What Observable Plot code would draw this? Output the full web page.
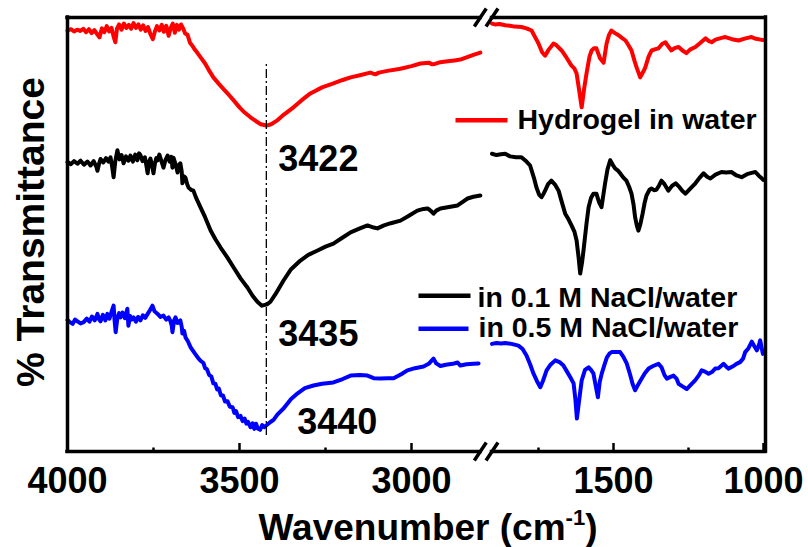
<!DOCTYPE html>
<html>
<head>
<meta charset="utf-8">
<script src="https://cdn.jsdelivr.net/npm/d3@7"></script>
<script src="https://cdn.jsdelivr.net/npm/@observablehq/plot@0.6"></script>
<style>
  html, body { margin: 0; padding: 0; background: #fff; }
</style>
</head>
<body>
<div id="chart"></div>
<script>
// FTIR spectra of the hydrogel, % transmittance (offset, a.u.) vs wavenumber (cm^-1)

const seriesNames = ["Hydrogel in water", "in 0.1 M NaCl/water", "in 0.5 M NaCl/water"];
const seriesColors = ["#ff0000", "#000000", "#0000ff"];

const majorTicks = [4000, 3500, 3000, 1500, 1000];
const minorTicks = [3750, 3250, 1750, 1250];

// O–H stretching minima marked on the spectra
const peakWavenumbers = [3422, 3435, 3440];

// [wavenumber, transmittance] — high-wavenumber segment (4000–2800)
const hydrogelHigh = [
  [4000,97.0],[3990,97.3],[3981,96.8],[3972,97.2],[3963,96.9],[3954,97.4],[3946,96.6],[3938,97.3],
  [3930,96.4],[3922,97.1],[3914,96.2],[3907,95.4],[3900,97.5],[3893,96.6],[3886,98.0],[3879,96.8],
  [3872,97.6],[3866,95.6],[3861,94.3],[3856,97.5],[3850,98.4],[3843,97.2],[3836,98.6],[3829,97.6],
  [3822,98.3],[3815,97.4],[3808,98.7],[3801,97.6],[3794,98.4],[3787,97.2],[3780,98.2],[3773,96.9],
  [3766,97.8],[3759,96.2],[3752,95.0],[3746,96.8],[3740,98.0],[3733,97.0],[3726,98.3],[3720,96.7],
  [3713,98.1],[3706,95.8],[3700,97.6],[3694,98.6],[3688,96.5],[3682,98.3],[3676,97.2],[3670,98.4],
  [3664,97.5],[3658,96.3],[3651,96.0],[3644,94.2],[3637,93.5],[3630,92.6],[3622,91.8],[3613,90.8],
  [3600,89.4],[3590,88.0],[3576,86.2],[3560,84.7],[3545,83.4],[3530,82.1],[3517,80.9],[3500,79.3],
  [3485,78.1],[3468,77.0],[3452,76.1],[3438,75.4],[3422,75.1],[3408,75.4],[3390,76.3],[3370,77.7],
  [3343,79.3],[3320,80.9],[3294,82.5],[3260,83.9],[3227,84.8],[3200,85.6],[3177,86.2],[3150,86.7],
  [3120,87.3],[3105,86.9],[3095,87.3],[3070,87.7],[3032,88.2],[3000,88.8],[2974,89.4],[2950,89.6],
  [2940,89.2],[2932,89.3],[2916,89.7],[2895,89.9],[2875,90.1],[2858,90.3],[2840,90.8],[2820,91.4],
  [2800,91.9]
];
// low-wavenumber segment (1905–1000)
const hydrogelLow = [
  [1905,98.6],[1895,98.4],[1880,98.5],[1861,98.2],[1845,98.1],[1830,97.9],[1807,97.8],[1790,97.5],
  [1773,97.0],[1760,95.3],[1750,94.0],[1738,92.0],[1728,91.2],[1716,92.6],[1700,94.0],[1690,93.6],
  [1673,92.4],[1657,90.8],[1640,88.9],[1630,88.2],[1623,87.1],[1615,83.5],[1606,79.3],[1598,83.5],
  [1590,87.1],[1580,91.0],[1573,92.4],[1565,92.9],[1557,92.9],[1545,90.6],[1533,89.6],[1523,94.0],
  [1515,96.0],[1507,97.0],[1495,96.4],[1483,95.9],[1472,95.3],[1460,94.7],[1450,93.6],[1440,92.4],
  [1430,90.0],[1423,88.5],[1411,86.2],[1400,87.6],[1394,88.5],[1383,91.0],[1373,92.4],[1360,92.7],
  [1350,92.9],[1338,93.9],[1327,94.3],[1317,93.3],[1307,92.4],[1295,93.0],[1283,93.2],[1270,92.4],
  [1257,91.8],[1245,92.6],[1227,93.2],[1210,94.2],[1193,95.2],[1183,94.6],[1173,94.3],[1160,94.9],
  [1140,95.3],[1127,95.5],[1105,95.0],[1083,94.7],[1060,95.2],[1040,95.5],[1025,95.1],[1010,94.9],
  [1003,94.8]
];

const nacl01High = [
  [4000,66.7],[3990,66.2],[3981,66.9],[3971,66.3],[3962,67.0],[3952,66.1],[3942,66.8],[3933,65.9],
  [3924,66.9],[3916,65.6],[3913,64.7],[3908,66.4],[3904,67.4],[3896,66.6],[3888,67.6],[3881,66.8],
  [3875,67.8],[3870,65.5],[3866,63.2],[3861,66.9],[3855,69.4],[3849,67.3],[3843,68.3],[3837,66.4],
  [3830,68.0],[3823,67.0],[3817,68.2],[3810,66.8],[3803,68.4],[3797,67.1],[3792,68.7],[3788,68.3],
  [3782,66.9],[3775,67.8],[3770,65.6],[3767,64.1],[3763,66.8],[3759,67.5],[3755,66.2],[3750,64.1],
  [3746,66.3],[3742,67.6],[3738,67.1],[3733,68.4],[3727,66.9],[3721,65.4],[3715,67.2],[3709,68.2],
  [3703,66.8],[3698,67.9],[3695,65.4],[3692,67.7],[3686,66.2],[3680,64.3],[3676,66.0],[3672,66.4],
  [3668,64.5],[3666,61.8],[3661,63.4],[3657,63.1],[3652,61.6],[3648,60.8],[3641,60.3],[3634,60.1],
  [3627,58.6],[3620,57.4],[3613,56.2],[3600,54.0],[3584,50.9],[3570,48.9],[3555,47.0],[3536,44.8],
  [3517,42.4],[3497,39.9],[3477,37.8],[3462,35.9],[3448,34.5],[3435,33.6],[3420,33.9],[3410,34.5],
  [3395,36.3],[3372,39.4],[3350,42.0],[3323,44.0],[3300,45.3],[3273,46.3],[3250,47.2],[3227,47.9],
  [3200,49.3],[3177,50.5],[3150,51.4],[3128,52.1],[3110,51.6],[3099,51.4],[3080,52.1],[3060,52.6],
  [3032,53.2],[3010,54.2],[2983,55.5],[2965,55.9],[2953,56.0],[2943,55.4],[2936,54.8],[2928,55.5],
  [2916,56.0],[2895,56.3],[2866,56.7],[2850,57.6],[2837,58.3],[2820,58.7],[2800,59.0]
];
const nacl01Low = [
  [1905,68.6],[1890,68.3],[1875,68.5],[1861,68.6],[1845,68.0],[1825,67.8],[1807,67.8],[1790,66.8],
  [1778,65.9],[1765,63.0],[1757,60.9],[1748,59.2],[1740,58.6],[1733,59.4],[1728,60.1],[1718,61.6],
  [1707,62.4],[1695,61.5],[1683,60.1],[1672,57.4],[1661,54.8],[1650,53.5],[1640,52.1],[1630,50.6],
  [1623,48.6],[1616,44.5],[1611,41.0],[1605,43.5],[1600,46.3],[1590,52.5],[1583,56.3],[1575,58.4],
  [1567,59.4],[1557,59.4],[1548,57.4],[1540,56.3],[1533,59.5],[1528,61.8],[1520,65.0],[1511,67.1],
  [1502,66.0],[1494,65.2],[1486,64.8],[1478,64.1],[1467,63.1],[1457,62.4],[1448,61.0],[1440,59.4],
  [1433,56.8],[1428,54.0],[1422,52.0],[1417,50.9],[1410,52.5],[1403,54.8],[1396,57.4],[1390,59.0],
  [1380,60.3],[1373,60.6],[1365,60.2],[1357,60.3],[1348,61.3],[1340,62.4],[1330,61.6],[1317,60.1],
  [1305,61.2],[1293,61.8],[1280,60.9],[1270,60.0],[1260,59.4],[1245,60.5],[1227,61.8],[1214,63.0],
  [1200,64.1],[1188,63.3],[1177,62.9],[1160,63.8],[1140,64.4],[1125,64.3],[1107,64.4],[1090,63.6],
  [1073,63.2],[1055,63.9],[1040,64.2],[1027,64.4],[1015,63.5],[1005,62.9],[1001,62.6]
];

const nacl05High = [
  [4000,30.3],[3993,29.8],[3985,29.4],[3978,30.4],[3971,30.0],[3962,29.5],[3953,29.8],[3944,30.6],
  [3936,29.9],[3929,31.1],[3921,30.2],[3913,31.7],[3908,30.4],[3904,30.0],[3897,31.5],[3890,30.2],
  [3884,31.7],[3878,30.6],[3872,32.2],[3866,33.6],[3863,30.1],[3860,27.5],[3855,30.8],[3850,31.9],
  [3846,30.9],[3840,32.0],[3833,30.7],[3826,32.9],[3823,29.0],[3818,31.2],[3813,30.4],[3808,30.9],
  [3801,29.9],[3795,31.0],[3788,30.2],[3781,31.4],[3774,30.8],[3767,31.7],[3760,32.6],[3753,33.6],
  [3747,32.3],[3738,31.7],[3730,31.0],[3721,31.3],[3713,30.4],[3706,30.9],[3701,30.1],[3697,29.0],
  [3695,27.5],[3690,30.2],[3686,30.9],[3680,29.6],[3672,30.2],[3668,28.7],[3666,27.2],[3661,27.8],
  [3657,26.3],[3650,25.4],[3642,24.0],[3630,22.6],[3620,21.5],[3613,20.9],[3605,20.4],[3600,19.2],
  [3595,19.0],[3588,17.6],[3582,17.3],[3576,15.7],[3570,15.6],[3565,14.3],[3560,14.5],[3554,12.9],
  [3548,12.9],[3542,11.5],[3535,11.6],[3528,10.3],[3520,10.2],[3515,8.9],[3510,9.3],[3504,7.9],
  [3497,8.2],[3491,7.0],[3485,7.6],[3480,6.4],[3475,6.8],[3468,5.6],[3462,6.5],[3457,5.2],
  [3452,6.4],[3447,5.3],[3440,5.0],[3434,6.1],[3428,5.6],[3419,6.2],[3410,6.8],
  [3401,7.3],[3390,8.5],[3372,9.9],[3350,12.1],[3331,13.4],[3310,14.6],[3285,15.2],[3260,15.6],
  [3227,15.9],[3200,16.7],[3177,17.5],[3150,17.6],[3128,17.5],[3110,16.9],[3090,16.8],[3070,16.9],
  [3052,16.9],[3030,17.8],[3012,18.7],[2990,19.2],[2965,19.6],[2950,20.2],[2936,21.4],[2928,20.3],
  [2916,19.7],[2900,20.0],[2880,20.2],[2866,20.5],[2858,19.8],[2840,20.1],[2820,20.2],[2805,20.3]
];
const nacl05Low = [
  [1905,24.8],[1890,25.0],[1875,24.9],[1861,25.0],[1840,24.8],[1817,24.4],[1803,23.6],[1790,22.1],
  [1778,20.1],[1767,18.0],[1755,16.2],[1744,14.8],[1735,16.3],[1723,18.7],[1710,20.0],[1694,21.0],
  [1680,20.6],[1667,19.8],[1655,18.4],[1644,17.1],[1633,15.7],[1627,12.0],[1622,7.6],[1615,11.5],
  [1606,16.4],[1595,18.8],[1583,19.4],[1575,18.8],[1567,18.0],[1560,15.4],[1552,12.5],[1546,16.0],
  [1539,18.0],[1530,20.0],[1522,21.7],[1513,22.6],[1506,22.9],[1492,22.9],[1478,22.9],[1467,21.8],
  [1456,20.3],[1445,17.8],[1436,15.5],[1428,14.1],[1418,15.4],[1406,16.8],[1395,18.1],[1383,19.1],
  [1368,19.7],[1350,20.2],[1340,19.4],[1330,17.6],[1322,16.8],[1310,17.2],[1300,17.5],[1290,16.8],
  [1283,15.6],[1270,15.0],[1256,14.4],[1245,15.2],[1228,16.4],[1215,17.6],[1206,18.7],[1195,18.4],
  [1183,17.9],[1172,18.3],[1161,19.1],[1150,19.2],[1133,20.2],[1125,19.6],[1117,19.1],[1100,19.7],
  [1090,20.2],[1078,20.6],[1068,21.4],[1061,22.9],[1050,23.8],[1039,25.3],[1030,24.2],[1022,23.3],
  [1015,24.6],[1011,25.6],[1006,23.8],[1002,22.5]
];

// ---- broken x axis: 4000–2800 on the left, 1905–1000 on the right ----
const HIGH_FROM = 4000, HIGH_TO = 2800;
const LOW_FROM = 1905, LOW_TO = 1000;
const HIGH_UNITS = 0.344;   // axis units per cm^-1, left panel
const LOW_UNITS = 0.3;      // axis units per cm^-1, right panel
const LOW_ORIGIN = 696;     // axis position of 1000 cm^-1
const AXIS_LENGTH = 698;

const axisPos = wn => wn >= HIGH_TO - 1
  ? (HIGH_FROM - wn) * HIGH_UNITS
  : LOW_ORIGIN - (wn - LOW_TO) * LOW_UNITS;
const wavenumberAt = p => p <= axisPos(HIGH_TO) + 1
  ? Math.round(HIGH_FROM - p / HIGH_UNITS)
  : Math.round(LOW_TO + (LOW_ORIGIN - p) / LOW_UNITS);

const segments = [
  [0, "high", hydrogelHigh], [0, "low", hydrogelLow],
  [1, "high", nacl01High], [1, "low", nacl01Low],
  [2, "high", nacl05High], [2, "low", nacl05Low]
];
const rows = segments.flatMap(([s, part, pts]) =>
  pts.map(([wn, t]) => ({series: seriesNames[s], part, wn, t, x: axisPos(wn)})));

// ---- layout ----
const W = 808, H = 547;
const M = {top: 17, right: 43, bottom: 96, left: 67};
const PLOT_H = H - M.top - M.bottom;
const PX_T = PLOT_H / 100;   // pixels per transmittance unit
const FONT = "'Liberation Sans', Arial, Helvetica, sans-serif";

const breakX = [axisPos(HIGH_TO), axisPos(LOW_FROM)];
const slashes = [0, 100].flatMap(y => breakX.map(x => ({
  x1: x - 6, x2: x + 6, y1: y - 9 / PX_T, y2: y + 9 / PX_T
})));

const legend = [
  {name: seriesNames[0], x1: 388, x2: 440, y: 76.3, tx: 450, ty: 74.4},
  {name: seriesNames[1], x1: 351, x2: 403, y: 35.9, tx: 410, ty: 33.2},
  {name: seriesNames[2], x1: 351, x2: 401, y: 28.3, tx: 411, ty: 26.3}
];

// label anchors: start of text relative to each minimum, baseline height
const guideX = axisPos(peakWavenumbers[0]);
const peakLabels = [
  {wn: peakWavenumbers[0], x: guideX + 12, t: 64.7},
  {wn: peakWavenumbers[1], x: guideX + 12, t: 24.4},
  {wn: peakWavenumbers[2], x: axisPos(peakWavenumbers[2]) + 37, t: 4.1}
];

const chart = Plot.plot({
  width: W, height: H,
  marginTop: M.top, marginRight: M.right, marginBottom: M.bottom, marginLeft: M.left,
  style: {fontFamily: FONT, fontWeight: "bold", background: "#fff", color: "#000"},
  x: {domain: [0, AXIS_LENGTH]},
  y: {domain: [0, 100], axis: null},
  color: {domain: seriesNames, range: seriesColors},
  marks: [
    // spectra
    Plot.line(rows, {x: "x", y: "t", z: d => d.series + d.part, stroke: "series",
      strokeWidth: 4, strokeLinejoin: "round", strokeLinecap: "round"}),
    // dash-dot guide through the minima
    Plot.ruleX([peakWavenumbers[0]], {x: d => axisPos(d), y1: 3.7, y2: 89.6,
      stroke: "#000", strokeWidth: 1.3, strokeDasharray: "9,3,2,3"}),
    // frame with the axis break
    Plot.ruleX([0, AXIS_LENGTH], {stroke: "#000", strokeWidth: 3.5, strokeLinecap: "square"}),
    Plot.ruleY([0, 100], {x1: 0, x2: axisPos(HIGH_TO), stroke: "#000", strokeWidth: 3.5, strokeLinecap: "square"}),
    Plot.ruleY([0, 100], {x1: axisPos(LOW_FROM), x2: AXIS_LENGTH, stroke: "#000", strokeWidth: 3.5, strokeLinecap: "square"}),
    Plot.link(slashes, {x1: "x1", x2: "x2", y1: "y1", y2: "y2", stroke: "#000", strokeWidth: 3.5}),
    // inward ticks
    Plot.ruleX(majorTicks, {x: d => axisPos(d), insetTop: PLOT_H - 8, stroke: "#000", strokeWidth: 2.5}),
    Plot.ruleX(minorTicks, {x: d => axisPos(d), insetTop: PLOT_H - 3.5, stroke: "#000", strokeWidth: 2.5}),
    Plot.axisX(majorTicks.map(axisPos), {tickSize: 0, tickPadding: 16, fontSize: 36, fontWeight: "bold",
      tickFormat: p => String(wavenumberAt(p)), label: null}),
    // peak positions
    Plot.text(peakLabels, {x: "x", y: "t", text: d => String(d.wn),
      textAnchor: "start", lineAnchor: "bottom", fontSize: 36, fontWeight: "bold", fill: "#000"}),
    // legend
    Plot.link(legend, {x1: "x1", x2: "x2", y1: "y", y2: "y", stroke: "name", strokeWidth: 4.5}),
    Plot.text(legend, {x: "tx", y: "ty", text: "name", textAnchor: "start", lineAnchor: "bottom",
      fontSize: 28.5, fontWeight: "bold", fill: "#000"})
  ]
});

document.getElementById("chart").appendChild(chart);

// axis titles (the x title carries a superscript)
const svg = d3.select(chart);
svg.append("text")
  .attr("transform", "translate(44,232) rotate(-90)")
  .attr("text-anchor", "middle")
  .attr("font-size", 39).attr("font-weight", "bold").attr("fill", "#000")
  .text("% Transmittance");
const xTitle = svg.append("text")
  .attr("x", 428).attr("y", 540)
  .attr("text-anchor", "middle")
  .attr("font-size", 37).attr("font-weight", "bold").attr("fill", "#000");
xTitle.append("tspan").text("Wavenumber (cm");
xTitle.append("tspan").attr("dy", -15).attr("font-size", 22).text("-1");
xTitle.append("tspan").attr("dy", 15).text(")");
</script>
</body>
</html>
